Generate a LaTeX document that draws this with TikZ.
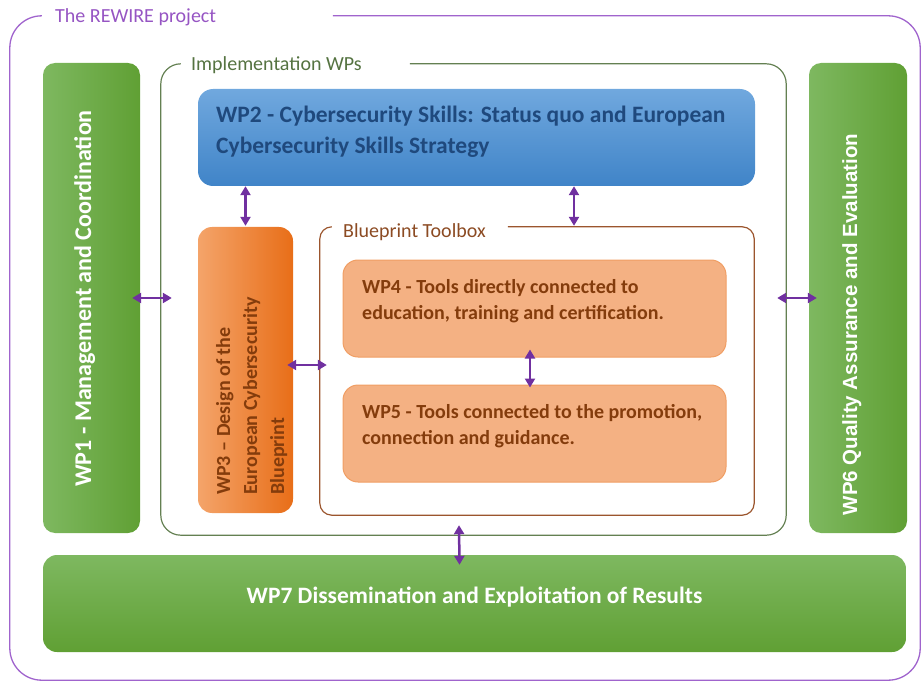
\documentclass[tikz,border=0pt]{standalone}
\usepackage{fontspec}
\setmainfont{Carlito}
\newfontfamily\arialfont{Liberation Sans}
\usetikzlibrary{arrows.meta,calc}
\definecolor{gL}{RGB}{126,184,96}
\definecolor{gR}{RGB}{96,160,52}
\definecolor{bT}{RGB}{112,168,222}
\definecolor{bB}{RGB}{64,132,200}
\definecolor{bText}{RGB}{31,73,125}
\definecolor{oL}{RGB}{244,164,106}
\definecolor{oR}{RGB}{232,110,24}
\definecolor{oText}{RGB}{132,60,12}
\definecolor{peach}{RGB}{244,177,131}
\definecolor{peachD}{RGB}{240,158,100}
\definecolor{pFrame}{RGB}{160,100,205}
\definecolor{pText}{RGB}{150,85,195}
\definecolor{arrP}{RGB}{112,48,160}
\definecolor{gFrame}{RGB}{100,128,82}
\definecolor{gText}{RGB}{85,115,65}
\definecolor{brFrame}{RGB}{155,85,45}
\definecolor{brText}{RGB}{140,75,35}
\tikzset{
  area/.style={rectangle, inner sep=0pt, draw=none},
  greenv/.style={rectangle, rounded corners=12pt, left color=gL, right color=gR, inner sep=0pt},
  greenh/.style={rectangle, rounded corners=14pt, top color=gL, bottom color=gR, inner sep=0pt},
  bluebox/.style={rectangle, rounded corners=15pt, top color=bT, bottom color=bB, inner sep=0pt},
  orangebox/.style={rectangle, rounded corners=14pt, left color=oL, right color=oR, inner sep=0pt},
  peachbox/.style={rectangle, rounded corners=15pt, fill=peach, draw=peachD, line width=1pt, inner sep=0pt},
  lbl/.style={font=\fontsize{20}{24}\selectfont, inner sep=0pt},
  wtext/.style={text=white, inner sep=0pt},
  arr/.style={draw=arrP, line width=2.5pt, {Triangle[width=10pt,length=9pt]}-{Triangle[width=10pt,length=9pt]}},
}
\begin{document}
\begin{tikzpicture}[x=1pt,y=-1pt]
\useasboundingbox (0,0) rectangle (922,682);
% frames (anchor areas)
\node[area, minimum width=910pt, minimum height=664pt] (rewire) at (465,348) {};
\node[area, minimum width=625pt, minimum height=471pt] (impl) at (473.5,299.5) {};
\node[area, minimum width=434pt, minimum height=288pt] (tool) at (537,371) {};
\draw[pFrame, line width=1.3pt, rounded corners=32pt]
  ([xshift=323pt]rewire.north west) -- (rewire.north east) -- (rewire.south east)
  -- (rewire.south west) -- (rewire.north west) -- ([xshift=32pt]rewire.north west);
\draw[gFrame, line width=1.2pt, rounded corners=20pt]
  ([xshift=249pt]impl.north west) -- (impl.north east) -- (impl.south east)
  -- (impl.south west) -- (impl.north west) -- ([xshift=20pt]impl.north west);
\draw[brFrame, line width=1.2pt, rounded corners=12pt]
  ([xshift=188pt]tool.north west) -- (tool.north east) -- (tool.south east)
  -- (tool.south west) -- (tool.north west) -- ([xshift=12pt]tool.north west);
\node[lbl, text=pText, anchor=base west] (rewirelbl) at (55,23) {The REWIRE project};
\node[lbl, text=gText, anchor=base west] (impllbl) at (191,71) {Implementation WPs};
\node[lbl, text=brText, anchor=base west] (toollbl) at (343,237) {Blueprint Toolbox};
% boxes
\node[greenv, minimum width=97pt, minimum height=470pt] (wp1) at (91.5,298) {};
\node[wtext, rotate=90, anchor=base, font=\fontsize{24}{28}\selectfont\bfseries] (wp1t) at (91,298.5) {WP1 - Management and Coordination};
\node[greenv, minimum width=98pt, minimum height=470pt] (wp6) at (858,298) {};
\node[wtext, rotate=90, anchor=base, font=\arialfont\fontsize{20.5}{24}\selectfont\bfseries] (wp6t) at (857,324.5) {WP6 Quality Assurance and Evaluation};
\node[greenh, minimum width=863pt, minimum height=97pt] (wp7) at (474.5,603.5) {};
\node[wtext, anchor=base, font=\fontsize{23.5}{28}\selectfont\bfseries] (wp7t) at (474.5,603) {WP7 Dissemination and Exploitation of Results};
\node[bluebox, minimum width=557pt, minimum height=97pt] (wp2) at (476.5,137.5) {};
\node[text=bText, anchor=base west, align=left, inner sep=0pt, font=\fontsize{23.5}{31}\selectfont\bfseries] (wp2t) at (216,154) {WP2 - Cybersecurity Skills: Status quo and European\\Cybersecurity Skills Strategy};
\node[orangebox, minimum width=95pt, minimum height=286pt] (wp3) at (245.5,370) {};
\node[text=oText, rotate=90, anchor=base west, align=left, inner sep=0pt, font=\fontsize{20}{27}\selectfont\bfseries] (wp3t) at (284,495) {WP3 -- Design of the\\European Cybersecurity\\Blueprint};
\node[peachbox, minimum width=383pt, minimum height=97pt] (wp4) at (534.5,308.5) {};
\node[text=oText, anchor=base west, align=left, inner sep=0pt, font=\fontsize{20}{26}\selectfont\bfseries] (wp4t) at (362,319) {WP4 - Tools directly connected to\\education, training and certification.};
\node[peachbox, minimum width=383pt, minimum height=97pt] (wp5) at (534.5,433.5) {};
\node[text=oText, anchor=base west, align=left, inner sep=0pt, font=\fontsize{20}{26}\selectfont\bfseries] (wp5t) at (362,444) {WP5 - Tools connected to the promotion,\\connection and guidance.};
% arrows
\draw[arr] ([xshift=-8pt]wp1.east) -- ([xshift=11pt]impl.west |- wp1.east);
\draw[arr] ([xshift=-9pt]impl.east |- wp6.west) -- ([xshift=8pt]wp6.west);
\draw[arr] (wp2.south -| wp3.north) -- ([yshift=1pt]wp3.north);
\draw[arr] ([xshift=37pt]wp2.south -| tool.north) -- ([xshift=37pt,yshift=1pt]tool.north);
\draw[arr] ([shift={(-6pt,5pt)}]wp3.east) -- ([shift={(7pt,5pt)}]wp3.east -| tool.west);
\draw[arr] ([shift={(-4.5pt,8pt)}]wp4.south) -- ([shift={(-4.5pt,-3pt)}]wp5.north);
\draw[arr] ([shift={(-14.5pt,10pt)}]impl.south) -- ([shift={(-15pt,-10pt)}]wp7.north);
\end{tikzpicture}
\end{document}
